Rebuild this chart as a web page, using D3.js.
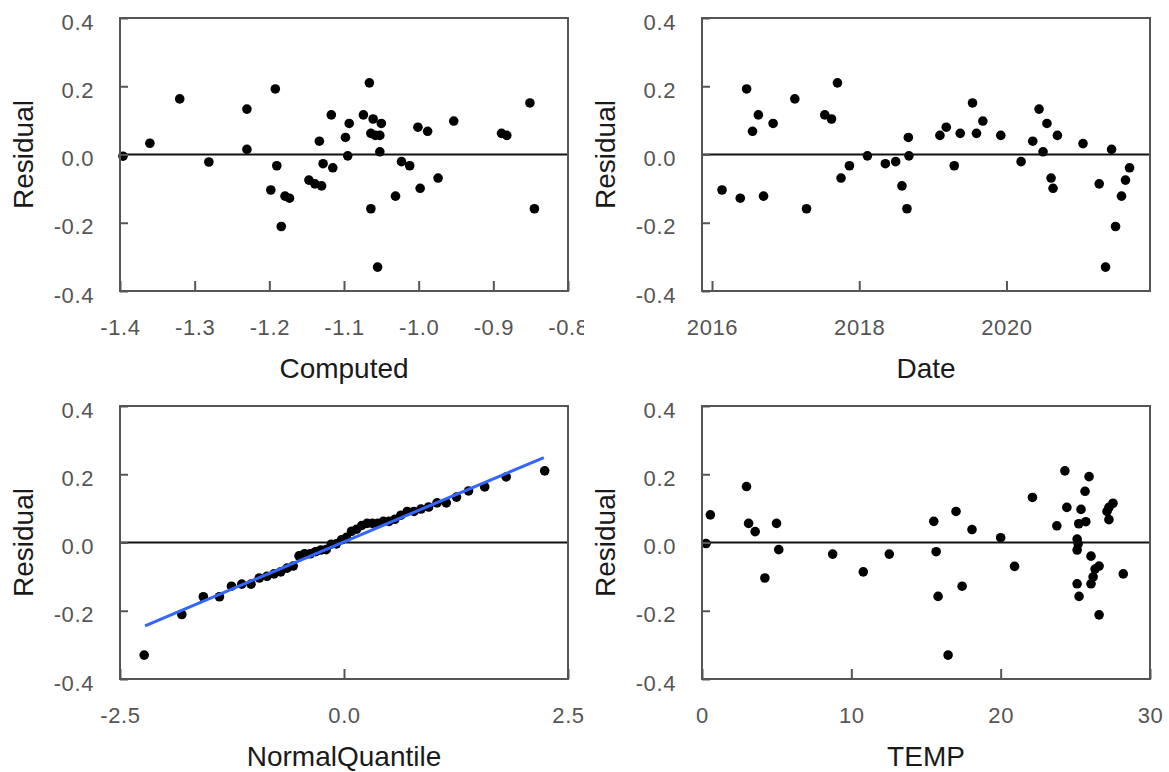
<!DOCTYPE html>
<html>
<head>
<meta charset="utf-8">
<script src="https://cdn.jsdelivr.net/npm/d3@7"></script>
<style>
  body { margin: 0; background: #fff; }
  text { font-family: "Liberation Sans", Arial, sans-serif; }
</style>
</head>
<body>
<div id="chart"></div>
<script>
// residual axis, shared by all four panels
var residTicks = [-0.4, -0.2, 0.0, 0.2, 0.4];

// panel 1: Residual by Computed
var computedTicks = [-1.4, -1.3, -1.2, -1.1, -1.0, -0.9, -0.8];
var computedX = [-1.396, -1.360, -1.320, -1.281, -1.230, -1.230, -1.192, -1.190, -1.198, -1.179, -1.173,
    -1.184, -1.147, -1.139, -1.130, -1.133, -1.128, -1.117, -1.115, -1.093, -1.098, -1.095, -1.066,
    -1.074, -1.061, -1.050, -1.064, -1.058, -1.052, -1.052, -1.064, -1.055, -1.023, -1.012, -1.031,
    -1.001, -0.988, -0.998, -0.974, -0.953, -0.889, -0.882, -0.851, -0.845];
var computedResid = [-0.005, 0.033, 0.163, -0.022, 0.133, 0.015, 0.192, -0.033, -0.104, -0.122, -0.128,
    -0.211, -0.075, -0.086, -0.092, 0.039, -0.027, 0.116, -0.039, 0.091, 0.050, -0.004, 0.210,
    0.116, 0.104, 0.091, 0.062, 0.056, 0.056, 0.008, -0.159, -0.330, -0.021, -0.033, -0.122,
    0.080, 0.068, -0.099, -0.069, 0.098, 0.062, 0.056, 0.151, -0.159];

// panel 2: Residual by Date (decimal years)
var dateTicks = [2016, 2018, 2020];
var dateX = [2016.136, 2016.384, 2016.47, 2016.55, 2016.63, 2016.70, 2016.83, 2017.125, 2017.284,
    2017.532, 2017.623, 2017.704, 2017.753, 2017.867, 2018.111, 2018.355, 2018.495, 2018.58, 2018.648,
    2018.667, 2018.675, 2019.096, 2019.182, 2019.291, 2019.372, 2019.539, 2019.593, 2019.679, 2019.923,
    2020.199, 2020.357, 2020.443, 2020.55, 2020.497, 2020.692, 2020.606, 2020.633, 2021.04, 2021.26,
    2021.428, 2021.346, 2021.482, 2021.563, 2021.617, 2021.672];
var dateResid = [-0.104, -0.128, 0.192, 0.068, 0.116, -0.122, 0.091, 0.163, -0.159,
    0.116, 0.104, 0.210, -0.069, -0.033, -0.004, -0.027, -0.021, -0.092, -0.159,
    0.050, -0.004, 0.056, 0.080, -0.033, 0.062, 0.151, 0.062, 0.098, 0.056,
    -0.021, 0.039, 0.133, 0.091, 0.008, 0.056, -0.069, -0.099, 0.032, -0.086,
    0.015, -0.330, -0.211, -0.122, -0.075, -0.039];

// panel 3: normal quantile plot
var quantTicks = [-2.5, 0.0, 2.5];
var quantX = [-2.23, -1.81, -1.57, -1.39, -1.256, -1.141, -1.038, -0.945, -0.860, -0.781, -0.706,
    -0.635, -0.567, -0.502, -0.439, -0.377, -0.317, -0.258, -0.199, -0.142, -0.085, -0.028,
    0.028, 0.085, 0.142, 0.199, 0.258, 0.317, 0.377, 0.439, 0.502, 0.567, 0.635,
    0.706, 0.781, 0.860, 0.945, 1.038, 1.141, 1.256, 1.39, 1.57, 1.81, 2.24];
var quantResid = [-0.330, -0.211, -0.159, -0.159, -0.128, -0.122, -0.122, -0.104, -0.099, -0.092, -0.086,
    -0.075, -0.069, -0.039, -0.033, -0.033, -0.027, -0.022, -0.021, -0.005, -0.004, 0.008,
    0.015, 0.033, 0.039, 0.050, 0.056, 0.056, 0.056, 0.062, 0.062, 0.068, 0.080,
    0.091, 0.091, 0.098, 0.104, 0.116, 0.116, 0.133, 0.151, 0.163, 0.192, 0.210];
var qqLineX = [-2.22, 2.23];
var qqLineY = [-0.244, 0.249];

// panel 4: Residual by TEMP
var tempTicks = [0, 10, 20, 30];
var tempX = [0.27, 0.56, 2.98, 3.12, 3.56, 4.21, 4.99, 5.14, 8.75, 10.80, 12.54, 15.52, 15.68, 15.81,
    16.48, 17.01, 17.42, 18.08, 20.0, 20.93, 22.13, 23.76, 24.30, 24.43, 25.38, 25.92, 25.65, 25.23,
    25.70, 25.12, 25.19, 25.12, 26.05, 26.59, 26.32, 26.19, 26.05, 25.12, 25.25, 26.59, 28.21, 27.52,
    27.25, 27.12, 27.25];
var tempResid = [-0.003, 0.081, 0.164, 0.056, 0.032, -0.104, 0.056, -0.021, -0.034, -0.086, -0.034, 0.062, -0.027, -0.158,
    -0.330, 0.091, -0.128, 0.038, 0.014, -0.070, 0.132, 0.049, 0.210, 0.103, 0.097, 0.193, 0.150, 0.055,
    0.061, 0.010, -0.004, -0.022, -0.040, -0.069, -0.078, -0.101, -0.121, -0.121, -0.158, -0.212, -0.092, 0.115,
    0.103, 0.091, 0.067];

var svg = d3.select("#chart")
    .append("svg")
    .attr("width", 1169)
    .attr("height", 772);

var plotW = 448, plotH = 273;

// plain hyphen for negatives, like the original
function fmt(spec) {
    var f = d3.format(spec);
    return function (d) { return f(d).replace("\u2212", "-"); };
}

function drawPanel(left, top, clipRight, xDomain, xTicks, xFormat, xs, ys, xTitle, line) {
    var clipId = "clip" + left + "_" + top;
    svg.append("clipPath").attr("id", clipId)
        .append("rect")
        .attr("x", 0).attr("y", 0)
        .attr("width", clipRight).attr("height", 772);

    var g = svg.append("g")
        .attr("clip-path", "url(#" + clipId + ")")
        .append("g")
        .attr("transform", "translate(" + left + "," + top + ")");

    var x = d3.scaleLinear().domain(xDomain).range([0, plotW]);
    var y = d3.scaleLinear().domain([-0.4, 0.4]).range([plotH, 0]);

    // points
    g.selectAll(".pt")
        .data(xs.map(function (d, i) { return [d, ys[i]]; }))
        .enter()
        .append("circle")
        .attr("class", "pt")
        .attr("cx", function (d) { return x(d[0]); })
        .attr("cy", function (d) { return y(d[1]); })
        .attr("r", 4.8)
        .attr("fill", "#000");

    // zero reference line
    g.append("line")
        .attr("x1", 0).attr("x2", plotW)
        .attr("y1", y(0)).attr("y2", y(0))
        .attr("stroke", "#111")
        .attr("stroke-width", 2);

    if (line) {
        g.append("path")
            .datum(line[0].map(function (d, i) { return [d, line[1][i]]; }))
            .attr("fill", "none")
            .attr("stroke", "#3366ff")
            .attr("stroke-width", 3)
            .attr("d", d3.line()
                .x(function (d) { return x(d[0]); })
                .y(function (d) { return y(d[1]); }));
    }

    var yAxis = d3.axisLeft(y)
        .tickValues(residTicks)
        .tickFormat(fmt(".1f"))
        .tickSize(-8)
        .tickPadding(26);

    var gy = g.append("g").call(yAxis);
    gy.select(".domain").remove();
    gy.selectAll(".tick line").attr("stroke", "#555").attr("stroke-width", 2);
    gy.selectAll(".tick text")
        .attr("dy", "0.5em")
        .attr("fill", "#555")
        .style("font-size", "22px")
        .style("letter-spacing", "0.6px")
        .style("font-family", "'Liberation Sans', Arial, sans-serif");

    var xAxis = d3.axisBottom(x)
        .tickValues(xTicks)
        .tickFormat(xFormat)
        .tickSize(-10)
        .tickPadding(28);

    var gx = g.append("g")
        .attr("transform", "translate(0," + plotH + ")")
        .call(xAxis);
    gx.select(".domain").remove();
    gx.selectAll(".tick line").attr("stroke", "#555").attr("stroke-width", 2);
    gx.selectAll(".tick text")
        .attr("dy", "0.71em")
        .attr("fill", "#555")
        .style("font-size", "22px")
        .style("letter-spacing", "0.6px")
        .style("font-family", "'Liberation Sans', Arial, sans-serif");

    // frame
    g.append("rect")
        .attr("x", 0).attr("y", 0)
        .attr("width", plotW).attr("height", plotH)
        .attr("fill", "none")
        .attr("stroke", "#555")
        .attr("stroke-width", 2);

    // titles
    g.append("text")
        .attr("transform", "translate(" + (-87) + "," + (plotH / 2) + ") rotate(-90)")
        .attr("text-anchor", "middle")
        .attr("fill", "#1a1a1a")
        .style("font-size", "28px")
        .text("Residual");

    g.append("text")
        .attr("x", plotW / 2)
        .attr("y", plotH + 87)
        .attr("text-anchor", "middle")
        .attr("fill", "#1a1a1a")
        .style("font-size", "28px")
        .text(xTitle);
}

drawPanel(120, 18, 584, [-1.4, -0.8], computedTicks, fmt(".1f"), computedX, computedResid, "Computed");
drawPanel(702, 18, 1169, [2015.864, 2021.95], dateTicks, fmt("d"), dateX, dateResid, "Date");
drawPanel(120, 406, 600, [-2.5, 2.5], quantTicks, fmt(".1f"), quantX, quantResid, "NormalQuantile", [qqLineX, qqLineY]);
drawPanel(702, 406, 1169, [0, 30], tempTicks, fmt("d"), tempX, tempResid, "TEMP");
</script>
</body>
</html>
